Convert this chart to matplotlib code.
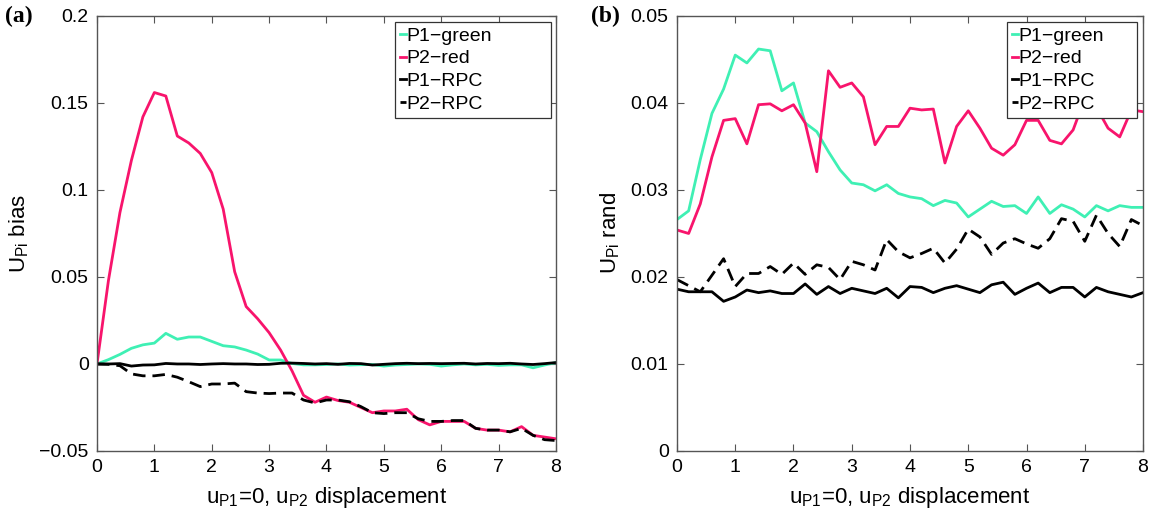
import matplotlib
matplotlib.use("Agg")
import matplotlib.pyplot as plt
import numpy as np

plt.rcParams['font.family'] = ['Liberation Sans', 'DejaVu Sans']
plt.rcParams['mathtext.fontset'] = 'custom'
plt.rcParams['mathtext.rm'] = 'Liberation Sans'
plt.rcParams['mathtext.it'] = 'Liberation Sans'

green = '#3ff0b4'
red = '#f8146c'

# displacement u_P2 (0..8 step 0.2)
disp = [0.0, 0.2, 0.4, 0.6, 0.8, 1.0, 1.2, 1.4, 1.6, 1.8,
        2.0, 2.2, 2.4, 2.6, 2.8, 3.0, 3.2, 3.4, 3.6, 3.8,
        4.0, 4.2, 4.4, 4.6, 4.8, 5.0, 5.2, 5.4, 5.6, 5.8,
        6.0, 6.2, 6.4, 6.6, 6.8, 7.0, 7.2, 7.4, 7.6, 7.8, 8.0]

# (a) bias
bias_p1_green = [0.0, 0.0025, 0.0055, 0.009, 0.011, 0.012, 0.0176, 0.0142, 0.0155, 0.0155,
                 0.013, 0.0105, 0.0098, 0.008, 0.0057, 0.0023, 0.0023, 0.0003, -0.0005, -0.0005,
                 -0.0003, 0.0, -0.0006, -0.0004, -0.0003, -0.0012, -0.0006, -0.0003, 0.0, -0.0002,
                 -0.0012, -0.0005, 0.0, -0.0005, -0.0002, -0.0008, -0.0005, -0.0005, -0.0022, -0.0006, 0.0008]
bias_p2_red = [0.0, 0.048, 0.087, 0.117, 0.142, 0.156, 0.154, 0.131, 0.127, 0.121,
               0.110, 0.089, 0.053, 0.033, 0.026, 0.018, 0.008, -0.004, -0.018, -0.022,
               -0.019, -0.021, -0.022, -0.025, -0.028, -0.027, -0.027, -0.026, -0.032, -0.035,
               -0.033, -0.033, -0.033, -0.037, -0.038, -0.038, -0.039, -0.036, -0.041, -0.042, -0.043]
bias_p1_rpc = [0.0, 0.0, 0.0002, -0.0012, -0.0006, -0.0005, 0.0003, 0.0, 0.0, -0.0003,
               0.0, 0.0002, 0.0, 0.0, -0.0003, -0.0002, 0.0004, 0.0005, 0.0003, 0.0,
               0.0002, -0.0002, 0.0003, 0.0002, -0.0006, -0.0002, 0.0002, 0.0004, 0.0002, 0.0003,
               0.0002, 0.0003, 0.0004, 0.0, 0.0003, 0.0002, 0.0004, 0.0, -0.0003, 0.0002, 0.0008]
bias_p2_rpc = [0.0, -0.0002, -0.001, -0.0057, -0.0068, -0.0068, -0.006, -0.0076, -0.0102, -0.013,
               -0.0115, -0.0115, -0.011, -0.0159, -0.0167, -0.017, -0.0167, -0.0167, -0.0207, -0.0224,
               -0.0207, -0.0207, -0.0217, -0.0245, -0.028, -0.0285, -0.028, -0.028, -0.0315, -0.033,
               -0.033, -0.0325, -0.0325, -0.037, -0.038, -0.038, -0.039, -0.037, -0.041, -0.0435, -0.044]

# (b) random
rand_p1_green = [0.0266, 0.0276, 0.0335, 0.0388, 0.0416, 0.0455, 0.0446, 0.0462, 0.046, 0.0414,
                 0.0423, 0.0377, 0.0367, 0.0344, 0.0323, 0.0308, 0.0306, 0.0299, 0.0306, 0.0296,
                 0.0292, 0.029, 0.0282, 0.0288, 0.0285, 0.0269, 0.0278, 0.0287, 0.0281, 0.0282,
                 0.0273, 0.0292, 0.0273, 0.0283, 0.0278, 0.0269, 0.0282, 0.0276, 0.0282, 0.028, 0.028]
rand_p2_red = [0.0254, 0.025, 0.0284, 0.0338, 0.038, 0.0382, 0.0353, 0.0398, 0.0399, 0.0391,
               0.0398, 0.0377, 0.0321, 0.0437, 0.0418, 0.0423, 0.0407, 0.0352, 0.0373, 0.0373,
               0.0394, 0.0392, 0.0393, 0.0331, 0.0373, 0.0391, 0.0371, 0.0348, 0.034, 0.0352,
               0.038, 0.038, 0.0357, 0.0353, 0.0369, 0.0405, 0.0395, 0.0371, 0.0361, 0.0392, 0.039]
rand_p1_rpc = [0.0186, 0.0183, 0.0183, 0.0183, 0.0172, 0.0177, 0.0185, 0.0182, 0.0184, 0.0181,
               0.0181, 0.0192, 0.018, 0.0189, 0.0181, 0.0187, 0.0184, 0.0181, 0.0187, 0.0176,
               0.0189, 0.0188, 0.0182, 0.0187, 0.019, 0.0186, 0.0182, 0.0191, 0.0194, 0.018,
               0.0187, 0.0193, 0.0182, 0.0188, 0.0188, 0.0177, 0.0188, 0.0183, 0.018, 0.0177, 0.0182]
rand_p2_rpc = [0.0197, 0.019, 0.0183, 0.0202, 0.0221, 0.0189, 0.0204, 0.0204, 0.0212, 0.0203,
               0.0216, 0.0203, 0.0214, 0.0211, 0.0197, 0.0218, 0.0214, 0.0208, 0.0243, 0.0229,
               0.0222, 0.0227, 0.0233, 0.0216, 0.0232, 0.0255, 0.0246, 0.0226, 0.0239, 0.0244,
               0.0238, 0.0233, 0.0244, 0.0267, 0.0264, 0.0241, 0.0271, 0.025, 0.0235, 0.0266, 0.0259]

labels = ['P1\u2212green', 'P2\u2212red', 'P1\u2212RPC', 'P2\u2212RPC']
xlabel = r'u$_{\mathrm{P1}}$=0, u$_{\mathrm{P2}}$ displacement'

fig = plt.figure(figsize=(11.49, 5.15), dpi=100)
ax1 = fig.add_axes([0.0844, 0.1243, 0.3995, 0.8447])
ax2 = fig.add_axes([0.5892, 0.1243, 0.4056, 0.8447])


def style_axis(ax):
    for sp in ax.spines.values():
        sp.set_color('#555555')
        sp.set_linewidth(1.0)
    ax.tick_params(direction='in', length=5, width=0.8, color='#555555',
                   top=True, right=True, labelsize=14, pad=6)
    ax.set_xlim(0, 8)
    ax.set_xticks(range(0, 9))
    ax.set_xlabel(xlabel, fontsize=16, labelpad=6)


def draw_panel(ax, g, r, s, d, box):
    ax.plot(disp, g, color=green, lw=2.0, label=labels[0])
    ax.plot(disp, r, color=red, lw=2.0, label=labels[1])
    ax.plot(disp, s, color='black', lw=2.0, label=labels[2])
    ax.plot(disp, d, color='black', lw=2.0, ls=(0, (4.5, 2.5)), label=labels[3])
    leg = ax.legend(loc='upper left', bbox_to_anchor=box, mode='expand',
                    fontsize=14, handlelength=0.3, handletextpad=0.05,
                    labelspacing=0.27, borderpad=0.25, borderaxespad=0.0,
                    fancybox=False, framealpha=1)
    leg.get_frame().set_edgecolor('#333333')
    leg.get_frame().set_linewidth(0.9)


draw_panel(ax1, bias_p1_green, bias_p2_red, bias_p1_rpc, bias_p2_rpc,
           (0.649, 0.772, 0.340, 0.214))
style_axis(ax1)
ax1.set_ylim(-0.05, 0.2)
ax1.set_yticks([-0.05, 0, 0.05, 0.1, 0.15, 0.2])
ax1.set_yticklabels(['\u22120.05', '0', '0.05', '0.1', '0.15', '0.2'])
ax1.set_ylabel(r'U$_{\mathrm{Pi}}$ bias', fontsize=16, labelpad=6)

draw_panel(ax2, rand_p1_green, rand_p2_red, rand_p1_rpc, rand_p2_rpc,
           (0.708, 0.772, 0.279, 0.214))
style_axis(ax2)
ax2.set_ylim(0, 0.05)
ax2.set_yticks([0, 0.01, 0.02, 0.03, 0.04, 0.05])
ax2.set_yticklabels(['0', '0.01', '0.02', '0.03', '0.04', '0.05'])
ax2.set_ylabel(r'U$_{\mathrm{Pi}}$ rand', fontsize=16, labelpad=6)

fig.text(0.004, 0.958, '(a)', fontsize=17, fontweight='bold', family='Liberation Serif')
fig.text(0.514, 0.958, '(b)', fontsize=17, fontweight='bold', family='Liberation Serif')

fig.savefig('out.png', dpi=100)
